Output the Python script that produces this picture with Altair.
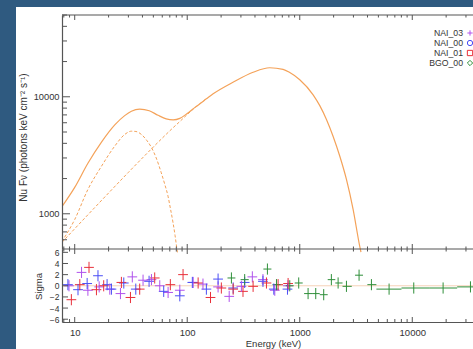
import altair as alt
import pandas as pd

# ---------------- data ----------------
# total model (solid), blackbody (dashed), power law (dashed): E [keV], nuFnu
total_E = [7.7, 10, 13.1, 17.3, 22.7, 27.8, 31.9, 37.8, 46, 55, 65, 75, 86, 100, 115, 148,
           170, 255, 385, 541, 711, 815, 1000, 1315, 1507, 1727, 1977, 2270, 2600, 2980, 3410, 3500]
total_F = [1150, 1680, 2700, 4100, 5750, 6900, 7530, 7850, 7600, 6950, 6480, 6350, 6540, 7200, 8000, 9600,
           10600, 13300, 16200, 17700, 17150, 16100, 14000, 10400, 8400, 6400, 4600, 3100, 1965, 1090, 529, 470]
bb_E = [7.7, 10, 13.1, 17.3, 22.7, 27.8, 31.9, 35, 39.2, 44, 48, 53, 58.8, 63, 67.5, 71, 74.8, 78, 80.1, 82]
bb_F = [580, 893, 1614, 2550, 3790, 4760, 5080, 5050, 4760, 4200, 3700, 3000, 2240, 1800, 1413, 1100, 838, 650, 540, 460]
pl_E = [7.7, 10, 15, 20, 30, 40, 48, 55, 65, 75, 86, 100, 115, 148]
pl_F = [570, 745, 1125, 1505, 2260, 3000, 3580, 4080, 4780, 5450, 6150, 7050, 7950, 9600]

# residuals (sigma)
nai03_E = [8.9, 11.5, 13.1, 16.5, 20.5, 25.5, 32.5, 40.5, 48.1, 57, 67.6, 85.9, 113, 138, 188, 236, 303, 379, 471, 600, 786]
nai03_S = [0.0, 2.4, -0.8, -0.2, -0.6, -1.4, 1.6, 1.0, 1.1, 0.0, -1.2, -0.8, 0.6, 0.3, -0.2, -1.9, -0.1, 1.6, 1.1, -0.8, 0.0]
nai00_E = [8.7, 10.7, 12.9, 16.1, 19.4, 21.2, 27.3, 34.9, 45.8, 61.8, 85.9, 111, 148, 188, 256, 324, 471, 588, 778]
nai00_S = [0.2, -0.7, 0.4, 1.8, 0.2, -0.6, 0.5, -0.6, 0.8, -1.0, -1.8, 0.6, -0.6, 1.2, -0.4, 0.6, 0.8, -0.6, -0.6]
nai01_E = [9.34, 11.1, 13.4, 15.6, 18.1, 26.0, 31.3, 37.8, 51.4, 70.8, 91.8, 125, 161, 201, 256, 313, 385, 506, 642, 788]
nai01_S = [-2.5, 0.2, 3.3, -0.7, 0.0, 0.6, -2.1, -0.6, 1.4, 0.2, 2.0, 0.5, -2.1, -0.4, -0.6, -1.0, -0.1, 0.5, 0.2, 0.4]
nai_binfactor = 1.105
bgo_E = [247, 324, 516, 621, 815, 979, 1186, 1387, 1633, 1910, 2193, 2600, 3367, 4335, 6223, 10310, 18790, 32900]
bgo_lo = [228, 298, 475, 572, 751, 902, 1093, 1287, 1505, 1772, 2070, 2400, 3100, 3990, 4800, 8020, 14330, 25060]
bgo_hi = [268, 352, 560, 674, 884, 1062, 1287, 1505, 1772, 2070, 2400, 2900, 3650, 4800, 8020, 14330, 25060, 42700]
bgo_S = [1.4, 1.1, 3.0, 0.2, 0.0, 0.5, -1.4, -1.4, -1.6, 1.1, 0.5, -0.1, 1.9, 0.2, -0.6, -0.4, -0.4, -0.2]

dets = ["NAI_03", "NAI_00", "NAI_01", "BGO_00"]
det_colors = ["#b052ec", "#4a4ef5", "#e8303a", "#2f8f3a"]
plus_path = "M-1,0L1,0M0,-1L0,1"
det_shapes = [plus_path, "circle", "square", "diamond"]

x_major = [10, 100, 1000, 10000]
x_minor = [8, 9, 20, 30, 40, 50, 60, 70, 80, 90, 200, 300, 400, 500, 600, 700, 800, 900,
           2000, 3000, 4000, 5000, 6000, 7000, 8000, 9000, 20000, 30000]
y_major = [1000, 10000]
y_minor = [600, 700, 800, 900, 2000, 3000, 4000, 5000, 6000, 7000, 8000, 9000, 20000, 30000, 40000, 50000]
res_ticks = [-6, -4, -2, 0, 2, 4, 6]

# ---------------- layout / style ----------------
W, H_TOP, H_RES = 411, 234, 73
H = H_TOP + H_RES
ORANGE = "#f4a259"
FRAME = "#555555"
TXT = "#333333"
FONT = "Liberation Sans"

x_scale = alt.Scale(type="log", domain=[7.71, 34650], nice=False)
xaxis = alt.Axis(values=x_major, format="d", ticks=False, tickSize=0, grid=False, labelPadding=5,
                 title="Energy (keV)", titleX=211, titleY=21, titleBaseline="middle", titleAlign="center",
                 domainColor=FRAME, domainWidth=1.2, labelOverlap=False, orient="bottom", zindex=1,
                 labelFontSize=9.5, titleFontSize=9.5)
ytop_scale = alt.Scale(type="log", domain=[500, 50000], range=[H_TOP, 0], nice=False)
ytop_axis = alt.Axis(values=y_major, format="d", ticks=False, tickSize=0, grid=False, labelPadding=3,
                     title="Nu F\u03bd (photons keV cm\u207b\u00b2 s\u207b\u00b9)", titleX=-39, titleY=122,
                     titleBaseline="middle", titleAlign="center", titleAngle=-90,
                     domainColor=FRAME, domainWidth=1.2, labelOverlap=False, orient="left", zindex=1,
                     titleFontSize=10, labelFontSize=9.3)
res_scale = alt.Scale(domain=[-6.5, 6.6], range=[H, H_TOP], nice=False, zero=False)
res_axis = alt.Axis(values=res_ticks, format="d", ticks=False, tickSize=0, grid=False, labelPadding=3,
                    title="Sigma", titleX=-24, titleY=271, titleBaseline="middle", titleAlign="center",
                    titleAngle=-90, domainColor=FRAME, domainWidth=1.2, labelOverlap=False,
                    orient="left", zindex=1, labelFontSize=8.5, titleFontSize=9.5)
color_scale = alt.Scale(domain=dets, range=det_colors)

one = pd.DataFrame({"a": [0]})

# ---------------- background ----------------
bg = alt.Chart(one).mark_rect(color="white").encode(
    x=alt.value(-46), x2=alt.value(W + 10), y=alt.value(-8), y2=alt.value(H + 30))

# ---------------- top panel ----------------
tot_df = pd.DataFrame({"E": total_E, "F": total_F})
bb_df = pd.DataFrame({"E": bb_E, "F": bb_F})
pl_df = pd.DataFrame({"E": pl_E, "F": pl_F})

def curve(df, dash=None):
    kw = dict(color=ORANGE, strokeWidth=1.2, clip=True, interpolate="monotone")
    if dash:
        kw["strokeDash"] = dash
        kw["strokeWidth"] = 1.0
    return alt.Chart(df).mark_line(**kw).encode(
        x=alt.X("E:Q", scale=x_scale, axis=xaxis),
        y=alt.Y("F:Q", scale=ytop_scale, axis=ytop_axis),
        order="E:Q")

ytick_maj = alt.Chart(pd.DataFrame({"F": y_major})).mark_rule(color=FRAME, strokeWidth=1).encode(
    y=alt.Y("F:Q", scale=ytop_scale, axis=ytop_axis), x=alt.value(0), x2=alt.value(8))
ytick_min = alt.Chart(pd.DataFrame({"F": y_minor})).mark_rule(color=FRAME, strokeWidth=1).encode(
    y=alt.Y("F:Q", scale=ytop_scale, axis=ytop_axis), x=alt.value(0), x2=alt.value(5))

top = alt.layer(curve(tot_df), curve(bb_df, [3, 2]), curve(pl_df, [3, 2]), ytick_maj, ytick_min)

# ---------------- residual panel ----------------
rows = []
for det, Es, Ss in [("NAI_03", nai03_E, nai03_S), ("NAI_00", nai00_E, nai00_S), ("NAI_01", nai01_E, nai01_S)]:
    for e, s in zip(Es, Ss):
        rows.append({"det": det, "E": e, "sig": s, "lo": e / nai_binfactor, "hi": e * nai_binfactor})
for e, lo, hi, s in zip(bgo_E, bgo_lo, bgo_hi, bgo_S):
    rows.append({"det": "BGO_00", "E": e, "sig": s, "lo": lo, "hi": hi})
res_df = pd.DataFrame(rows)
res_df["y0"] = res_df["sig"] - 1
res_df["y1"] = res_df["sig"] + 1

zero = alt.Chart(pd.DataFrame({"sig": [0]})).mark_rule(color="#f6d2b8", strokeWidth=1).encode(
    y=alt.Y("sig:Q", scale=res_scale, axis=res_axis))
hbar = alt.Chart(res_df).mark_rule(strokeWidth=1).encode(
    x=alt.X("lo:Q", scale=x_scale, axis=xaxis), x2="hi:Q",
    y=alt.Y("sig:Q", scale=res_scale, axis=res_axis),
    color=alt.Color("det:N", scale=color_scale, legend=None))
vbar = alt.Chart(res_df).mark_rule(strokeWidth=1).encode(
    x=alt.X("E:Q", scale=x_scale, axis=xaxis),
    y=alt.Y("y0:Q", scale=res_scale, axis=res_axis), y2="y1:Q",
    color=alt.Color("det:N", scale=color_scale, legend=None))
rtick = alt.Chart(pd.DataFrame({"sig": res_ticks})).mark_rule(color=FRAME, strokeWidth=1).encode(
    y=alt.Y("sig:Q", scale=res_scale, axis=res_axis), x=alt.value(0), x2=alt.value(6))

bottom = alt.layer(zero, hbar, vbar, rtick)

# ---------------- legend ----------------
leg_df = pd.DataFrame({"det": dets})
leg_y = alt.Y("det:N", scale=alt.Scale(type="point", domain=dets, range=[18, 48], padding=0), axis=None)
leg_text = alt.Chart(leg_df).mark_text(align="right", baseline="middle", fontSize=8.7, font=FONT,
                                       color=TXT).encode(x=alt.value(401), y=leg_y, text="det:N")
leg_sym = alt.Chart(leg_df).mark_point(filled=False, size=28, strokeWidth=1, opacity=1).encode(
    x=alt.value(408), y=leg_y,
    color=alt.Color("det:N", scale=color_scale, legend=None),
    shape=alt.Shape("det:N", scale=alt.Scale(domain=dets, range=det_shapes), legend=None))
legend = alt.layer(leg_text, leg_sym)

# ---------------- frame lines and inward x ticks ----------------
def xticks(vals, y_a, y_b):
    return alt.Chart(pd.DataFrame({"E": vals})).mark_rule(color=FRAME, strokeWidth=1).encode(
        x=alt.X("E:Q", scale=x_scale, axis=xaxis), y=alt.value(y_a), y2=alt.value(y_b))

frame_top = alt.Chart(one).mark_rule(color=FRAME, strokeWidth=1.2).encode(
    x=alt.value(0), x2=alt.value(W), y=alt.value(0))
frame_mid = alt.Chart(one).mark_rule(color=FRAME, strokeWidth=1.2).encode(
    x=alt.value(0), x2=alt.value(W), y=alt.value(H_TOP))

ticks = [
    xticks(x_major, 0, 5), xticks(x_minor, 0, 2.5),
    xticks(x_major, H_TOP - 5, H_TOP + 5), xticks(x_minor, H_TOP - 2.5, H_TOP + 2.5),
    xticks(x_major, H - 5, H), xticks(x_minor, H - 3, H),
]

chart = alt.layer(bg, top, bottom, legend, frame_top, frame_mid, *ticks).resolve_scale(
    y="independent"
).properties(
    width=W, height=H,
    background="#2f5a80",
    padding={"left": 62, "top": 15, "right": 0, "bottom": 27},
    autosize=alt.AutoSizeParams(type="none"),
).configure_view(stroke=None).configure_axis(
    labelFont=FONT, titleFont=FONT, labelColor=TXT, titleColor=TXT,
    labelFontSize=9, titleFontSize=9, titleFontWeight="normal",
)

chart.save("out.html", embed_options={"renderer": "svg", "actions": False})
